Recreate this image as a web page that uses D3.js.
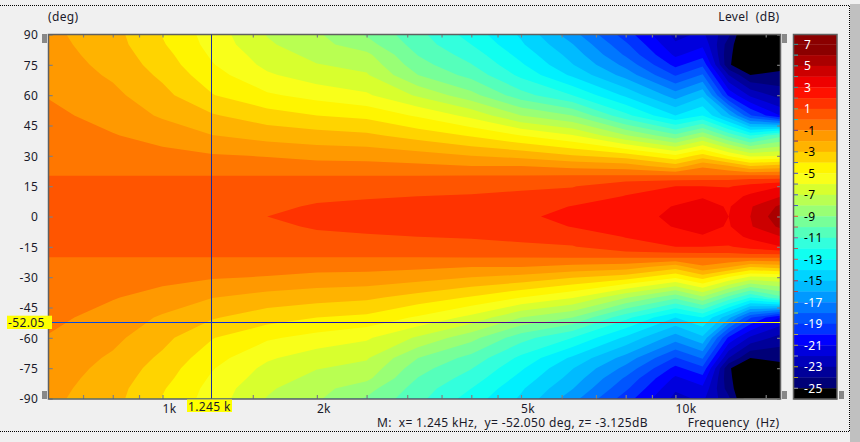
<!DOCTYPE html>
<html><head><meta charset="utf-8">
<script src="https://cdn.jsdelivr.net/npm/d3@7"></script>
<style>
html,body{margin:0;padding:0;background:#f0f0f0;overflow:hidden}
svg{display:block}
text{font-family:"Noto Sans",sans-serif;font-size:12px;fill:#1a1a2a;letter-spacing:.35px}
</style></head><body><svg id="c" width="860" height="442"></svg>
<script>
const freqs=[600,800,1000,1250,1600,2000,2500,3150,4000,5000,6300,8000,10000,11300,12700,14000,16000];
const halfAngles=[0,5,10,15,20,20.4,25,30,40,50,60,70,75,80,85,90];
const level0 =[.5,.6,.7,.85,1,1.2,1.35,1.5,1.65,1.81,2.3,2.8,3.1,3.6,3,4,5.7];
const level5 =[.48,.58,.68,.8,.9,1.05,1.1,1.2,1.3,1.45,2.05,2.5,3.05,3.4,2.9,3.9,5.2];
const level10=[.42,.5,.6,.65,.75,.9,.96,1,1.05,1.12,1.3,2.05,2.6,2.9,2.6,3.2,3.95];
const level15=[.32,.38,.42,.48,.55,.65,.7,.75,.8,.9,.95,1.6,2,2,1.9,2.4,2.95];
const level20=[.05,.05,.05,.05,.05,.05,.05,.05,.1,.2,.3,.3,.3,.35,.4,.4,.3];
const level20b=[-.05,-.05,-.05,-.05,-.05,-.05,-.05,-.05,-.05,-.05,-.05,-.05,-.05,-.05,-.05,-.05,-.05];
const level25=[-.15,-.25,-.35,-.45,-.6,-.65,-.7,-.8,-1,-1,-1.3,-1.5,-2.6,-1.2,-1.95,-3,-2.6];
const level30=[-.3,-.45,-.75,-.9,-1.05,-1.3,-1.35,-1.6,-2,-2.3,-2.9,-3.5,-4.8,-3.55,-5.05,-6.2,-6];
const level40=[-.55,-.95,-1.3,-1.97,-2.4,-2.6,-2.8,-3.4,-4.1,-5,-5.9,-7.9,-9.7,-8.2,-10.3,-12,-10.3];
const level50=[-.8,-1.3,-2.15,-2.9,-3.55,-4,-4.25,-5.15,-6.3,-8,-9,-11.7,-14,-13,-15.7,-18.9,-21];
const level60=[-1.05,-1.75,-2.7,-3.95,-4.85,-5.35,-5.85,-7.15,-8.65,-10.6,-12,-14.2,-16.5,-15.2,-20.2,-22.2,-23.4];
const level70=[-1.3,-2.15,-3.2,-4.6,-5.85,-6.55,-6.9,-9,-10.35,-12.25,-14.2,-16.4,-19.1,-17.9,-23,-25,-24.75];
const level75=[-1.43,-2.32,-3.45,-4.93,-6.25,-6.95,-7.3,-9.6,-10.95,-12.85,-14.95,-17.3,-20.3,-19.2,-24.9,-25.8,-25.4];
const level80=[-1.55,-2.45,-3.65,-5.15,-6.5,-7.3,-7.75,-10.05,-11.45,-13.35,-15.4,-18.15,-21.2,-20.4,-24.8,-26,-26];
const level85=[-1.65,-2.58,-3.9,-5.35,-6.85,-7.65,-8.6,-10.45,-12,-13.85,-15.95,-18.8,-21.85,-21.2,-24.5,-26.6,-26.6];
const level90=[-1.75,-2.65,-4.05,-5.45,-7.05,-7.85,-9.1,-10.7,-12.45,-14.15,-16.6,-19.5,-22.3,-21.8,-23.8,-27,-27];
const halfRows=[level0,level5,level10,level15,level20,level20b,level25,level30,level40,level50,level60,level70,level75,level80,level85,level90];

const bandTops=d3.range(8,-26,-1);
const bandColors=["#8b0000","#8b0000","#aa0000","#cc0000","#ee0000","#ff1100","#ff3300","#ff5500","#ff7700","#ff9900","#ffb300","#ffd400","#fff500","#f9ff1a","#d8ff2e","#b9ff52","#99ff75","#77ff99","#55ffbb","#33ffdd","#11fff0","#00f0ff","#00d4ff","#00bbff","#0099ff","#0077ff","#0055ff","#0033ff","#0000ff","#0000dd","#0000bb","#000099","#000077","#000000"];
const barTickValues=d3.range(7,-26,-1);
const barTickColors=["#20a0a0","#10c8c8","#20a8a8","#40a0a0","#20a0a0","#609090","#50c090","#10c8c8","#6030a0","#602090","#5080c0","#4060d0","#4040e0","#5060c0","#4050e0","#4050d0","#f05030","#d05050","#b05090","#c05050","#e05050","#d04040","#d02040","#c04040","#d0b020","#c0e020","#b0a040","#c0b040","#c0a020","#a0a0a0","#c0b000","#b0a020","#a0a0a0"];
const barLabels=d3.range(7,-26,-2);
const yTicks=d3.range(90,-91,-15);
const xTicks=[700,800,900,1000,1500,2000,2500,3000,3500,4000,4500,5000,6000,7000,8000,9000,10000,15000];
const xLabels={1000:"1k",2000:"2k",5000:"5k",10000:"10k"};
const cursorFreq=1245, cursorAngle=-52.05;
const cursorLineFreqs=[600,1000,2000,3000,5000,7000,9000,11000,13500,16000];
const cursorLineColors=["#0050e0","#0040f0","#1010c0","#2810a8","#500090","#900040","#d01010","#e06000","#f0c000","#ffff00"];

const W=860,H=442;
const svg=d3.select("#c");
const x=d3.scaleLog().domain([600,16000]).range([48.7,780.1]);
const y=d3.scaleLinear().domain([90,-90]).range([34.5,398.5]);
const bar=d3.scaleLinear().domain([8,-26]).range([33.6,399]);

/* window chrome */
svg.append("rect").attr("x",850).attr("y",4).attr("width",10).attr("height",H).attr("fill","#c0c0c0");
svg.append("path").attr("d","M0,5.5H849.5V431.5H0").attr("fill","none").attr("stroke","#000").attr("stroke-dasharray","1,1");

/* full grid, top row = +90 */
const angles=[...halfAngles.slice().reverse(),...halfAngles.slice(1).map(a=>-a)];
const rows=[...halfRows.slice().reverse(),...halfRows.slice(1)];
const grid=rows.flat();
const nx=freqs.length, ny=angles.length;
const colPos=d3.scaleLinear().domain(d3.range(nx)).range(freqs.map(f=>x(f))).clamp(true);
const rowPos=d3.scaleLinear().domain(d3.range(ny)).range(angles.map(a=>y(a))).clamp(true);
const path=d3.geoPath(d3.geoTransform({point(px,py){this.stream.point(colPos(px-.5),rowPos(py-.5));}}));
const contours=d3.contours().size([nx,ny]);

svg.append("clipPath").attr("id","plot").append("rect").attr("x",48.7).attr("y",34.5).attr("width",731.4).attr("height",364);
const plot=svg.append("g").attr("clip-path","url(#plot)");
plot.append("rect").attr("x",48).attr("y",34).attr("width",733).attr("height",366).attr("fill","#000");
bandTops.map((t,i)=>({t,c:bandColors[i]})).reverse().forEach(b=>{
  plot.append("path").attr("d",path(contours.contour(grid,b.t-1))).attr("fill",b.c);
});

/* axes */
const axisStyle=g=>{g.select(".domain").remove();g.selectAll("line").attr("stroke","#808080").attr("stroke-width",1.2);};
svg.append("g").attr("transform","translate(0,399)")
  .call(d3.axisBottom(x).tickValues(xTicks).tickSize(-4).tickFormat(d=>xLabels[d]||""))
  .call(axisStyle)
  .call(g=>g.selectAll("text").attr("text-anchor","start").attr("dy",null).attr("y",13.5).attr("x",-.5).style("font-size","12px").attr("font-family",null));
svg.append("g").attr("transform","translate(0,34.5)")
  .call(d3.axisTop(x).tickValues(xTicks).tickSize(-3).tickFormat("")).call(axisStyle);
svg.append("g").attr("transform","translate(48.7,0)")
  .call(d3.axisLeft(y).tickValues(yTicks).tickSize(-4).tickFormat(d=>d))
  .call(axisStyle)
  .call(g=>g.selectAll("text").attr("x",-10.5).attr("dy",null).attr("y",4.2).attr("font-family",null).style("font-size","12px"));
svg.append("g").attr("transform","translate(780.1,0)")
  .call(d3.axisRight(y).tickValues(yTicks).tickSize(-3).tickFormat("")).call(axisStyle);

svg.append("rect").attr("x",48.5).attr("y",34.5).attr("width",732).attr("height",364.5)
  .attr("fill","none").attr("stroke","#606060").attr("stroke-width",1.5);

/* sliders */
const sliders=[[42,34,5,9],[42,391,5,8],[782,34,5,9],[782,391,5,8],[839,391,5,8]];
svg.selectAll(".sl").data(sliders).join("rect").attr("class","sl")
  .attr("x",d=>d[0]).attr("y",d=>d[1]).attr("width",d=>d[2]).attr("height",d=>d[3]).attr("fill","#888");

/* colour bar */
svg.selectAll(".band").data(bandTops).join("rect").attr("class","band")
  .attr("x",794).attr("width",43).attr("y",d=>Math.max(34.5,bar(d))).attr("height",d=>bar(d-1)-Math.max(34.5,bar(d))+.3)
  .attr("fill",(d,i)=>bandColors[i]);
svg.selectAll(".bt").data(barTickValues).join("line").attr("class","bt")
  .attr("x1",794).attr("x2",798).attr("y1",d=>bar(d)).attr("y2",d=>bar(d))
  .attr("stroke",(d,i)=>barTickColors[i]).attr("stroke-width",1);
svg.append("rect").attr("x",793.5).attr("y",34.5).attr("width",43.5).attr("height",364.5)
  .attr("fill","none").attr("stroke","#606060").attr("stroke-width",1.5);
svg.selectAll(".bl").data(barLabels).join("text").attr("class","bl")
  .attr("x",804).attr("y",d=>bar(d)+4.3).text(d=>d)
  .style("fill",d=>(d>0||d<-15)?"#fff":"#000");

/* cursor: the reference inverts the map under the line, read here as colour stops */
const grad=svg.append("defs").append("linearGradient").attr("id","curH")
  .attr("gradientUnits","userSpaceOnUse").attr("x1",x(600)).attr("x2",x(16000)).attr("y1",0).attr("y2",0);
grad.selectAll("stop").data(cursorLineFreqs).join("stop")
  .attr("offset",d=>(x(d)-x(600))/(x(16000)-x(600))).attr("stop-color",(d,i)=>cursorLineColors[i]);
const cur=svg.append("g").attr("clip-path","url(#plot)");
cur.append("line").attr("x1",Math.floor(x(cursorFreq))+.5).attr("x2",Math.floor(x(cursorFreq))+.5).attr("y1",34).attr("y2",399).attr("stroke","#1c2f9c");
cur.append("rect").attr("x",48).attr("width",733).attr("y",322).attr("height",1).attr("fill","url(#curH)");

svg.append("rect").attr("x",7).attr("y",315.7).attr("width",45).attr("height",13.3).attr("fill","#ffff00");
svg.append("text").attr("x",8).attr("y",327).text("-52.05");
svg.append("rect").attr("x",187).attr("y",399.5).attr("width",45).attr("height",12.5).attr("fill","#ffff00");
svg.append("text").attr("x",188).attr("y",410.5).text("1.245 k");

/* titles */
svg.append("text").attr("x",48).attr("y",21).text("(deg)");
svg.append("text").attr("x",779.5).attr("y",21).attr("text-anchor","end").text("Level  (dB)").style("white-space","pre");
svg.append("text").attr("x",779.5).attr("y",427).attr("text-anchor","end").text("Frequency  (Hz)").style("white-space","pre");
svg.append("text").attr("x",377).attr("y",427).style("white-space","pre").text("M:  x= 1.245 kHz,  y= -52.050 deg, z= -3.125dB");
</script></body></html>
